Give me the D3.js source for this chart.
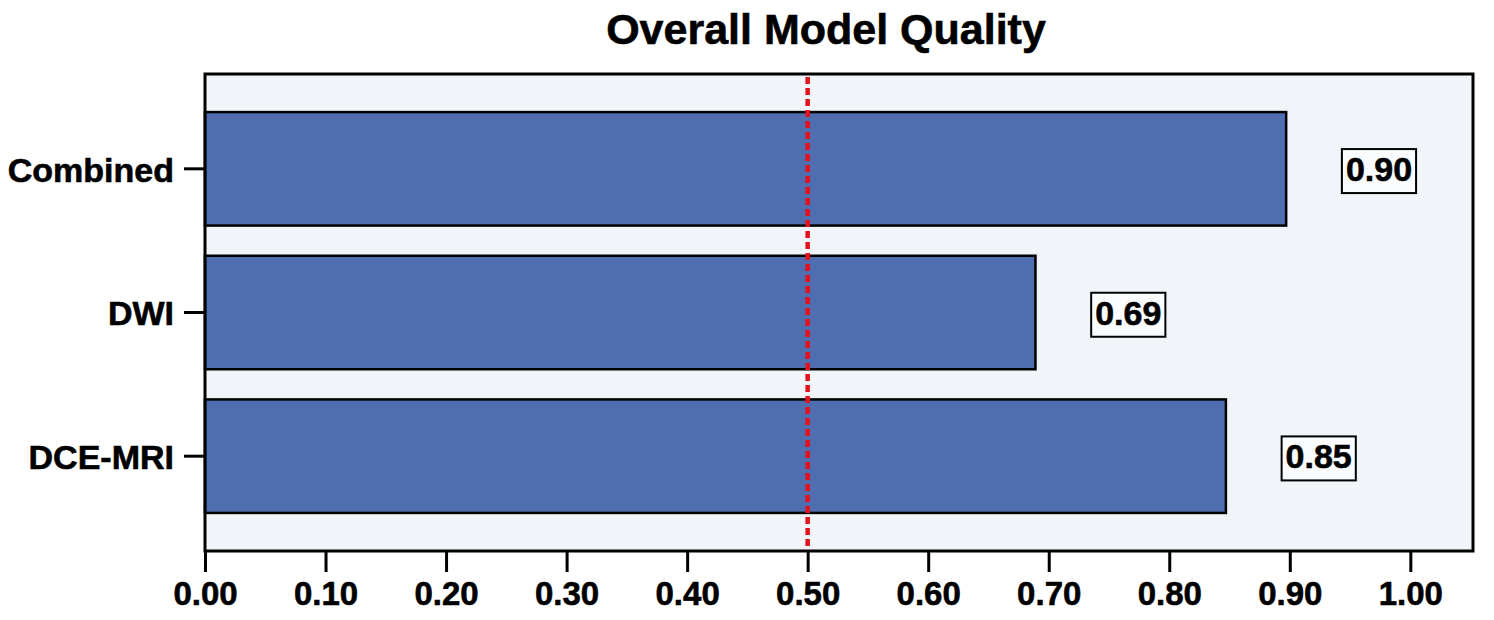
<!DOCTYPE html>
<html>
<head>
<meta charset="utf-8">
<script src="https://cdn.jsdelivr.net/npm/d3@7"></script>
<style>
  body { margin: 0; background: #fff; }
  text { font-family: "Liberation Sans", Arial, sans-serif; font-weight: bold; fill: #000; stroke: #000; stroke-width: 0.6px; }
</style>
</head>
<body>
<div id="chart"></div>
<script>
// chart data
const categories = ["Combined", "DWI", "DCE-MRI"];
const values = [0.897, 0.689, 0.847];
const xTicks = [0, 0.1, 0.2, 0.3, 0.4, 0.5, 0.6, 0.7, 0.8, 0.9, 1.0];
const threshold = 0.5;
const title = "Overall Model Quality";

const width = 1494;
const height = 620;
const margin = { top: 74, left: 205, right: 21, bottom: 69 };

const svg = d3.select("#chart")
    .append("svg")
    .attr("width", width)
    .attr("height", height);

const xScale = d3.scaleLinear()
    .domain([0, 1.052])
    .range([margin.left, width - margin.right]);

const yScale = d3.scaleBand()
    .domain(categories)
    .range([margin.top, height - margin.bottom])
    .paddingInner(0.21)
    .paddingOuter(0.265);

// plot background
svg.append("rect")
    .attr("x", margin.left)
    .attr("y", margin.top)
    .attr("width", width - margin.left - margin.right)
    .attr("height", height - margin.top - margin.bottom)
    .attr("fill", "#f1f5fa");

// bars
svg.selectAll("rect.bar")
    .data(categories)
    .enter()
    .append("rect")
    .attr("class", "bar")
    .attr("x", xScale(0))
    .attr("y", d => yScale(d))
    .attr("width", (d, i) => xScale(values[i]) - xScale(0))
    .attr("height", yScale.bandwidth())
    .attr("fill", "#4f6eaf")
    .attr("stroke", "#000")
    .attr("stroke-width", 2.5);

// dotted reference line at 0.5
svg.append("line")
    .attr("x1", xScale(threshold))
    .attr("x2", xScale(threshold))
    .attr("y1", margin.top + 3)
    .attr("y2", height - margin.bottom)
    .attr("stroke", "#e3121b")
    .attr("stroke-width", 4.5)
    .attr("stroke-dasharray", "7,4");

// value labels with boxes
const labels = svg.selectAll("g.vlabel")
    .data(categories)
    .enter()
    .append("g")
    .attr("class", "vlabel");

labels.append("text")
    .attr("x", (d, i) => xScale(values[i] + 0.077))
    .attr("y", d => yScale(d) + yScale.bandwidth() / 2)
    .attr("dy", "0.36em")
    .attr("text-anchor", "middle")
    .style("font-size", "34px")
    .text((d, i) => d3.format(".2f")(values[i]));

labels.each(function () {
    const g = d3.select(this);
    const bb = g.select("text").node().getBBox();
    g.insert("rect", "text")
        .attr("x", bb.x - 4)
        .attr("y", bb.y - 1)
        .attr("width", bb.width + 8)
        .attr("height", bb.height + 6)
        .attr("fill", "#fafcfe")
        .attr("stroke", "#000")
        .attr("stroke-width", 2)
        .style("stroke-width", "2px");
});

// frame
svg.append("rect")
    .attr("x", margin.left)
    .attr("y", margin.top)
    .attr("width", width - margin.left - margin.right)
    .attr("height", height - margin.top - margin.bottom)
    .attr("fill", "none")
    .attr("stroke", "#000")
    .attr("stroke-width", 3);

// x axis
const xAxis = svg.append("g")
    .attr("transform", `translate(0,${height - margin.bottom})`)
    .call(d3.axisBottom(xScale).tickValues(xTicks).tickFormat(d3.format(".2f"))
        .tickSize(21).tickPadding(10));
xAxis.select(".domain").remove();
xAxis.selectAll(".tick line").attr("stroke", "#000").attr("stroke-width", 3);
xAxis.selectAll(".tick text")
    .style("font-size", "33px")
    .attr("fill", "#000");

// y axis
const yAxis = svg.append("g")
    .attr("transform", `translate(${margin.left},0)`)
    .call(d3.axisLeft(yScale).tickSize(21).tickPadding(10));
yAxis.select(".domain").remove();
yAxis.selectAll(".tick line").attr("stroke", "#000").attr("stroke-width", 3);
yAxis.selectAll(".tick text")
    .attr("dy", "0.38em")
    .style("font-size", "34px")
    .attr("fill", "#000");

// title
svg.append("text")
    .attr("x", 826)
    .attr("y", 44)
    .attr("text-anchor", "middle")
    .style("font-size", "43px")
    .text(title);
</script>
</body>
</html>
